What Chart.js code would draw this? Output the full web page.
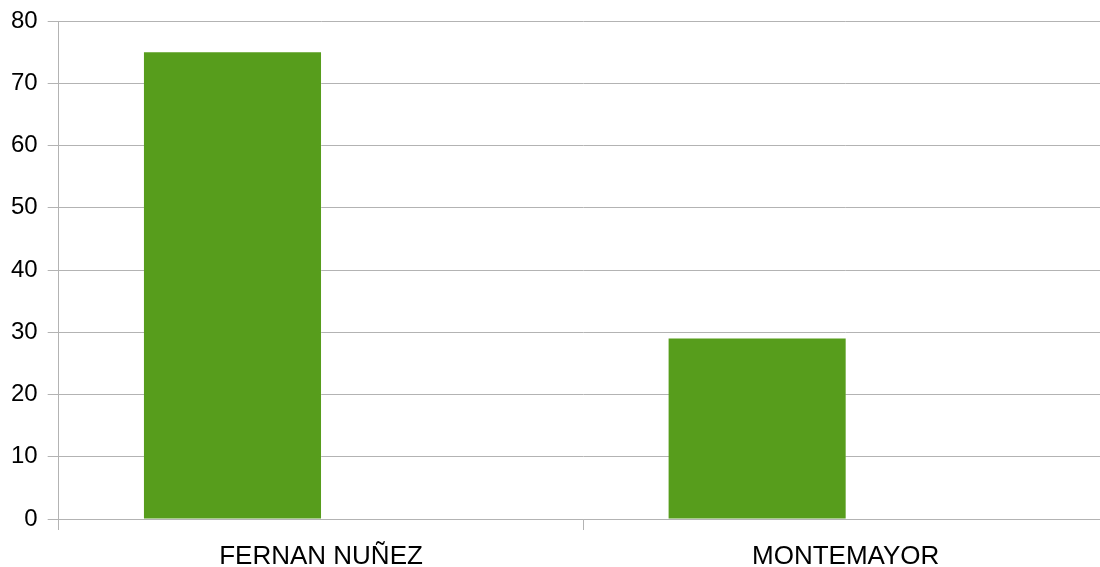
<!DOCTYPE html>
<html>
<head>
<meta charset="utf-8">
<script src="https://cdn.jsdelivr.net/npm/chart.js@4/dist/chart.umd.min.js"></script>
<style>
  html, body { margin: 0; padding: 0; background: #fff; overflow: hidden; }
  #wrap { width: 1108px; height: 567px; }
</style>
</head>
<body>
<div id="wrap"><canvas id="chart"></canvas></div>
<script>
// Categories along the x-axis
var places = ["FERNAN NUÑEZ", "MONTEMAYOR"];
// Bar values
var values = [75, 29];
// empty second series (keeps bars on the left half of each group)
var emptySeries = [null, null];
// y-axis range
var yMin = 0, yMax = 80, yStep = 10;

var gridColor = "#b3b3b3";
var ctx = document.getElementById("chart");
var chart = new Chart(ctx, {
  type: 'bar',
  data: {
    labels: places,
    datasets: [
      {
        data: values,
        backgroundColor: "#579d1c",
        barPercentage: 1,
        categoryPercentage: 0.675
      },
      {
        data: emptySeries,
        backgroundColor: "#7e0021",
        barPercentage: 1,
        categoryPercentage: 0.675
      }
    ]
  },
  options: {
    responsive: true,
    maintainAspectRatio: false,
    animation: false,
    layout: { padding: { left: 1, top: 21, right: 0, bottom: 0 } },
    plugins: { legend: { display: false }, tooltip: { enabled: false } },
    scales: {
      x: {
        grid: { drawOnChartArea: false, color: gridColor, tickLength: 11, offset: true },
        border: { color: gridColor },
        ticks: { color: "#000", padding: 11, font: { family: "Liberation Sans", size: 26 } },
        afterFit: function (axis) { axis.height = 48; }
      },
      y: {
        min: yMin,
        max: yMax,
        grid: { color: gridColor, tickLength: 11 },
        border: { color: gridColor },
        ticks: { stepSize: yStep, color: "#000", padding: 10, font: { family: "Liberation Sans", size: 24, lineHeight: 0.5 } },
        afterFit: function (axis) { axis.paddingTop = 0; axis.paddingBottom = 0; }
      }
    }
  }
});
</script>
</body>
</html>
